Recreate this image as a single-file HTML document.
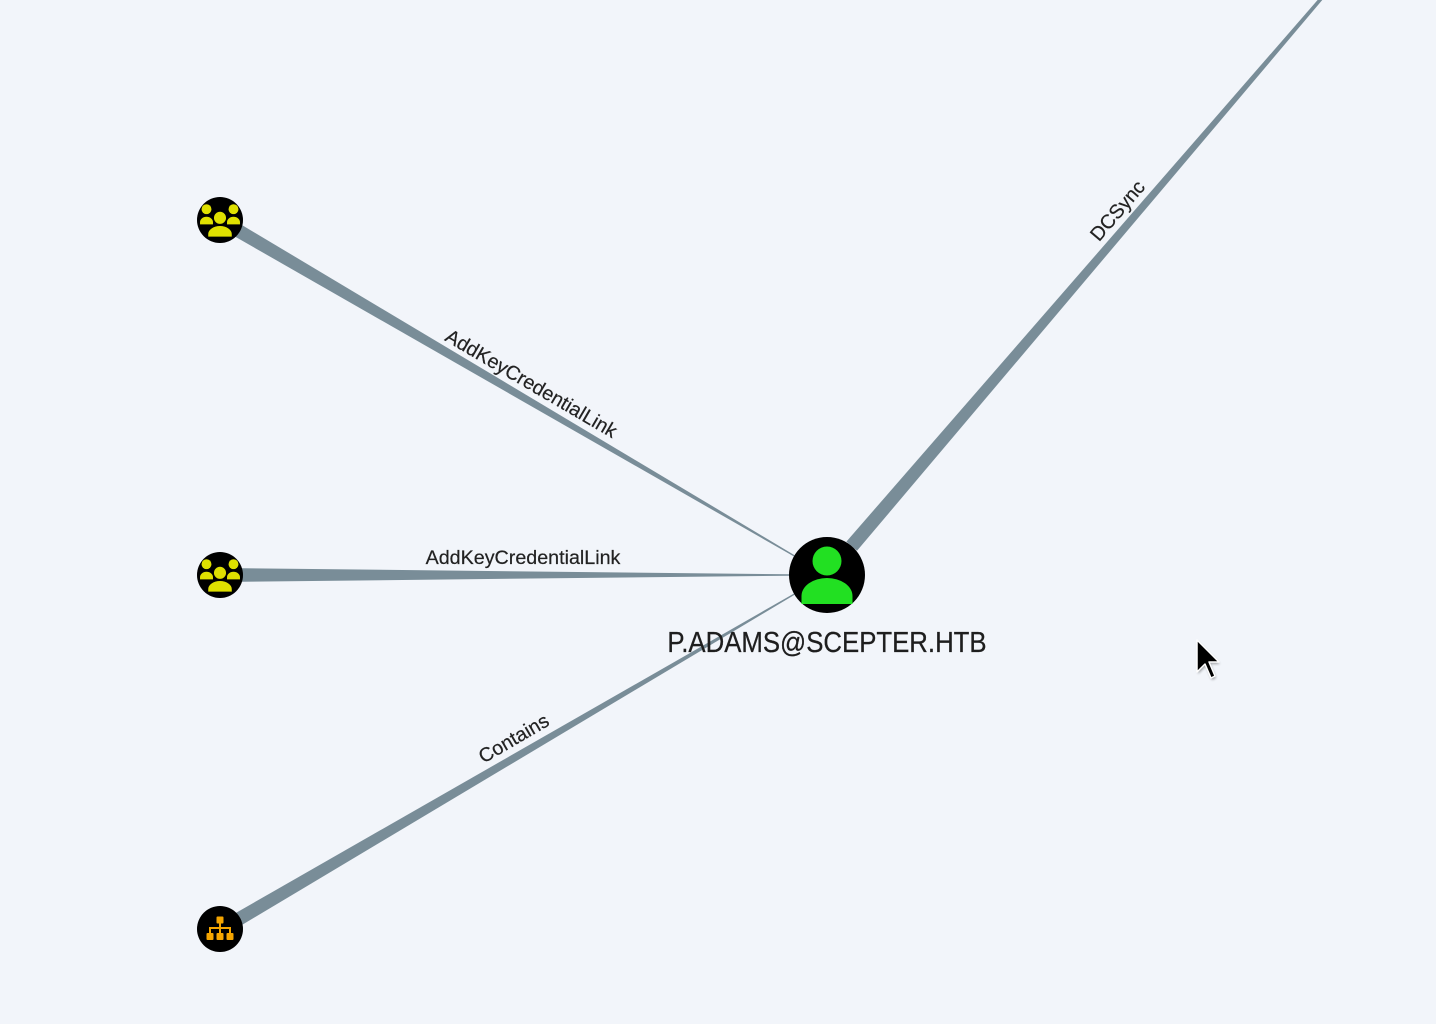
<!DOCTYPE html>
<html>
<head>
<meta charset="utf-8">
<style>
  html,body{margin:0;padding:0;background:#f2f5fa;}
  svg{display:block;}
  text{font-family:"Liberation Sans",Arial,sans-serif;}
</style>
</head>
<body>
<svg width="1436" height="1024" viewBox="0 0 1436 1024" xmlns="http://www.w3.org/2000/svg">
  <defs>
    <filter id="sh" x="-50%" y="-50%" width="200%" height="200%">
      <feGaussianBlur stdDeviation="1.2"/>
    </filter>
  </defs>
  <rect width="1436" height="1024" fill="#f2f5fa"/>

  <!-- Edges (tapered) -->
  <g fill="#798d98">
    <polygon points="216.5,226 223.5,214 794.6,555.2 793.8,556.4"/>
    <polygon points="220,568 789,574.3 789,575.7 220,582"/>
    <polygon points="223.5,936 216.5,924 793.8,593.6 794.6,594.8"/>
    <polygon points="857,550.8 846.4,541.6 1338.3,-23.8 1340.7,-21.8"/>
  </g>

  <!-- Edge labels -->
  <g fill="#222" font-size="19.7" stroke="#222" stroke-width="0.2">
    <text transform="translate(531,384) rotate(30.3)" text-anchor="middle" dominant-baseline="central">AddKeyCredentialLink</text>
    <text x="523" y="558" text-anchor="middle" dominant-baseline="central">AddKeyCredentialLink</text>
    <text transform="translate(514,739) rotate(-30.3)" text-anchor="middle" dominant-baseline="central">Contains</text>
    <text transform="translate(1118,211) rotate(-49.4)" text-anchor="middle" dominant-baseline="central">DCSync</text>
  </g>

  <!-- Group node 1 -->
  <g transform="translate(220,220)">
    <circle r="23" fill="#000"/>
    <g fill="#dfe000" transform="scale(1.08)">
      <circle cx="-12.5" cy="-10" r="4.6"/>
      <circle cx="12.5" cy="-10" r="4.6"/>
      <path d="M-18.5,4 v-2 a6,5 0 0 1 6,-5 a6,5 0 0 1 6,5 v2 z"/>
      <path d="M6.5,4 v-2 a6,5 0 0 1 6,-5 a6,5 0 0 1 6,5 v2 z"/>
      <circle cx="0" cy="-2" r="6.2" stroke="#000" stroke-width="1.2"/>
      <path d="M-11.5,16 v-3 a11.5,8 0 0 1 23,0 v3 z" stroke="#000" stroke-width="1.2"/>
    </g>
  </g>

  <!-- Group node 2 -->
  <g transform="translate(220,575)">
    <circle r="23" fill="#000"/>
    <g fill="#dfe000" transform="scale(1.08)">
      <circle cx="-12.5" cy="-10" r="4.6"/>
      <circle cx="12.5" cy="-10" r="4.6"/>
      <path d="M-18.5,4 v-2 a6,5 0 0 1 6,-5 a6,5 0 0 1 6,5 v2 z"/>
      <path d="M6.5,4 v-2 a6,5 0 0 1 6,-5 a6,5 0 0 1 6,5 v2 z"/>
      <circle cx="0" cy="-2" r="6.2" stroke="#000" stroke-width="1.2"/>
      <path d="M-11.5,16 v-3 a11.5,8 0 0 1 23,0 v3 z" stroke="#000" stroke-width="1.2"/>
    </g>
  </g>

  <!-- OU node -->
  <g transform="translate(220,929)">
    <circle r="23" fill="#000"/>
    <g fill="#f5a500">
      <rect x="-3.5" y="-12.5" width="7" height="7" rx="1"/>
      <rect x="-13.5" y="4" width="7" height="7" rx="1"/>
      <rect x="-3.5" y="4" width="7" height="7" rx="1"/>
      <rect x="6.5" y="4" width="7" height="7" rx="1"/>
      <rect x="-1" y="-6" width="2" height="10"/>
      <rect x="-11" y="-2" width="22" height="2"/>
      <rect x="-11" y="-2" width="2" height="6"/>
      <rect x="9" y="-2" width="2" height="6"/>
    </g>
  </g>

  <!-- Main user node -->
  <g transform="translate(827,575)">
    <circle r="38" fill="#000"/>
    <g fill="#22e022">
      <circle cx="0" cy="-14" r="14.5"/>
      <path d="M-25.5,29 v-8 a25.5,18 0 0 1 51,0 v8 z"/>
    </g>
  </g>

  <!-- Main label -->
  <text x="827" y="652" font-size="28.5" fill="#1e1e1e" stroke="#1e1e1e" stroke-width="0.25" text-anchor="middle" transform="translate(827,0) scale(0.905,1) translate(-827,0)">P.ADAMS@SCEPTER.HTB</text>

  <!-- Cursor -->
  <polygon points="1198,642 1198,674 1206,666 1212,680 1216,678 1210,664 1220,664" fill="#000" opacity="0.35" filter="url(#sh)"/>
  <polygon points="1197,640 1197,672 1205,664 1211,678 1215,676 1209,662 1219,662" fill="#000" stroke="#fff" stroke-width="1.5" stroke-linejoin="round"/>
</svg>
</body>
</html>
